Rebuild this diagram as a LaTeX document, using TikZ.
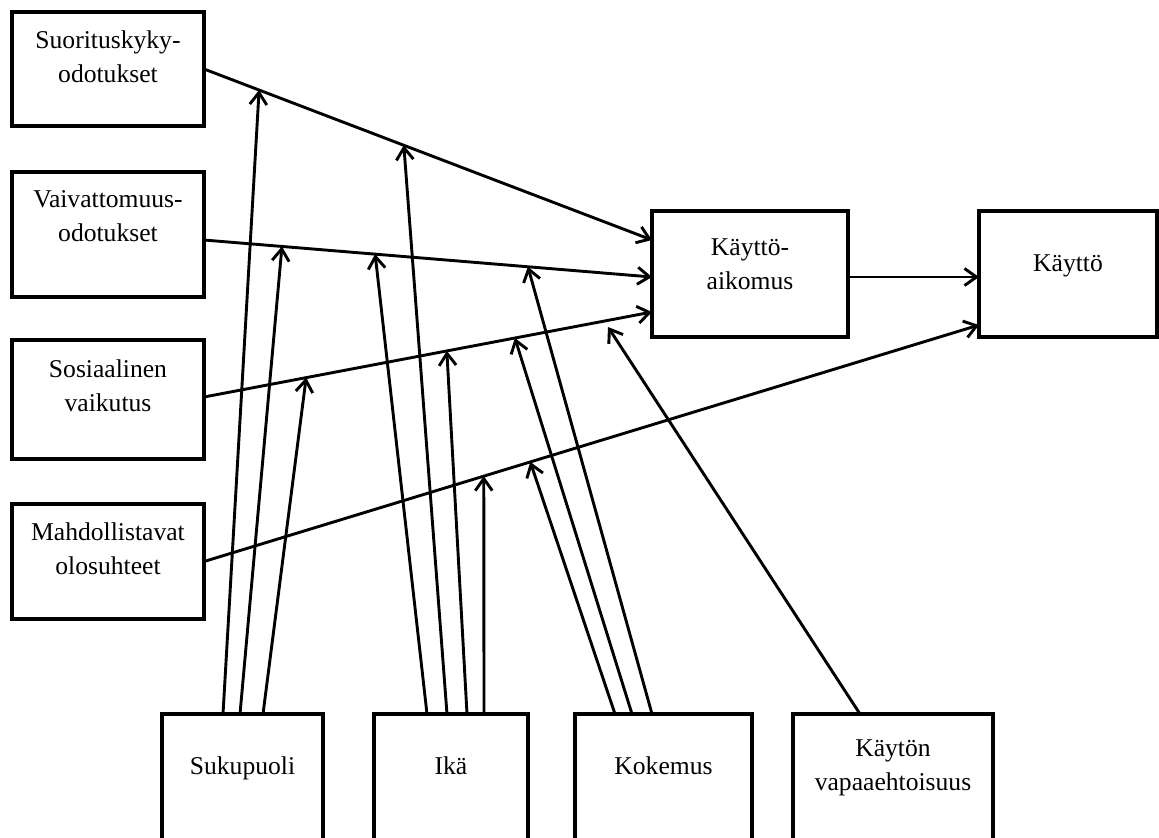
\documentclass[tikz,border=0pt]{standalone}
\usepackage{fontspec}
\setmainfont{Liberation Serif}
\usetikzlibrary{arrows.meta,calc}
\begin{document}
\begin{tikzpicture}[x=0.5pt,y=-0.5pt,
  box/.style={draw, line width=1.8pt, inner sep=0pt, outer sep=0pt, fill=white},
  lbl/.style={align=center, inner sep=0pt, font=\fontsize{12.8}{17}\selectfont},
  conn/.style={line width=1.45pt, -{Straight Barb[length=6pt,width=8.5pt]}},
]
\useasboundingbox (0,0) rectangle (1159,837);
\clip (0,0) rectangle (1159,837);

% determinants (left column)
\node[box, minimum width=96pt, minimum height=57pt]   (so)  at (108,69)    {};
\node[box, minimum width=96pt, minimum height=62.5pt] (va)  at (108,234.5) {};
\node[box, minimum width=96pt, minimum height=59.5pt] (sos) at (108,399.5) {};
\node[box, minimum width=96pt, minimum height=57.5pt] (ma)  at (108,561.5) {};
% intention and use
\node[box, minimum width=98pt, minimum height=63pt]   (ka)  at (750,274)   {};
\node[box, minimum width=89pt, minimum height=63pt]   (kt)  at (1068,274)  {};
% moderators (bottom row)
\node[box, minimum width=80.5pt, minimum height=78pt] (su)  at (242.5,792) {};
\node[box, minimum width=77pt,   minimum height=78pt] (ik)  at (451,792)   {};
\node[box, minimum width=88.5pt, minimum height=78pt] (ko)  at (663.5,792) {};
\node[box, minimum width=100pt,  minimum height=78pt] (kv)  at (893,792)   {};

% labels
\node[lbl, anchor=north] (so-t)  at ($(so.north)+(0,18)$)  {Suorituskyky-\\odotukset};
\node[lbl, anchor=north] (va-t)  at ($(va.north)+(0,18)$)  {Vaivattomuus-\\odotukset};
\node[lbl, anchor=north] (sos-t) at ($(sos.north)+(0,19)$) {Sosiaalinen\\vaikutus};
\node[lbl, anchor=north] (ma-t)  at ($(ma.north)+(0,18)$)  {Mahdollistavat\\olosuhteet};
\node[lbl, anchor=north] (ka-t)  at ($(ka.north)+(0,27)$)  {Käyttö-\\aikomus};
\node[lbl, anchor=north] (kt-t)  at ($(kt.north)+(0,43)$)  {Käyttö};
\node[lbl, anchor=north] (su-t)  at ($(su.north)+(0,42)$)  {Sukupuoli};
\node[lbl, anchor=north] (ik-t)  at ($(ik.north)+(0,42)$)  {Ikä};
\node[lbl, anchor=north] (ko-t)  at ($(ko.north)+(0,42)$)  {Kokemus};
\node[lbl, anchor=north] (kv-t)  at ($(kv.north)+(0,25)$)  {Käytön\\vapaaehtoisuus};

% end points of the main paths
\coordinate (soS)  at (so.east);
\coordinate (soE)  at ($(ka.west)+(0,-34)$);
\coordinate (vaS)  at ($(va.east)+(0,5.5)$);
\coordinate (vaE)  at ($(ka.west)+(0,3)$);
\coordinate (sosS) at ($(sos.east)+(0,-2.5)$);
\coordinate (sosE) at ($(ka.west)+(0,38)$);
\coordinate (maS)  at (ma.east);
\coordinate (maE)  at ($(kt.west)+(0,51)$);

% main paths
\draw[conn] (soS)  -- (soE);
\draw[conn] (vaS)  -- (vaE);
\draw[conn] (sosS) -- (sosE);
\draw[conn] (maS)  -- (maE);
\draw[conn] ($(ka.east)+(0,3)$) -- ($(kt.west)+(0,3)$);

% points where the moderating effects meet the paths
\path (soS)  -- (soE)  coordinate[pos=0.123] (so1)  coordinate[pos=0.446] (so2);
\path (vaS)  -- (vaE)  coordinate[pos=0.174] (va1)  coordinate[pos=0.382] (va2) coordinate[pos=0.723] (va3);
\path (sosS) -- (sosE) coordinate[pos=0.228] (sos1) coordinate[pos=0.542] (sos2) coordinate[pos=0.694] (sos3);
\path (maS)  -- (maE)  coordinate[pos=0.361] (ma1)  coordinate[pos=0.421] (ma2);
\coordinate (kvE) at (608,327);

% Sukupuoli
\draw[conn] ($(su.north west)+(61,0)$)  -- (so1);
\draw[conn] ($(su.north west)+(78,0)$)  -- (va1);
\draw[conn] ($(su.north west)+(101,0)$) -- (sos1);
% Ikä
\draw[conn] ($(ik.north west)+(53,0)$)  -- (va2);
\draw[conn] ($(ik.north west)+(73,0)$)  -- (so2);
\draw[conn] ($(ik.north west)+(93,0)$)  -- (sos2);
\draw[conn] ($(ik.north west)+(110,0)$) -- (ma1);
% Kokemus
\draw[conn] ($(ko.north west)+(40,0)$)  -- (ma2);
\draw[conn] ($(ko.north west)+(57,0)$)  -- (sos3);
\draw[conn] ($(ko.north west)+(77,0)$)  -- (va3);
% Käytön vapaaehtoisuus
\draw[conn] ($(kv.north west)+(67,0)$)  -- (kvE);
\end{tikzpicture}
\end{document}
